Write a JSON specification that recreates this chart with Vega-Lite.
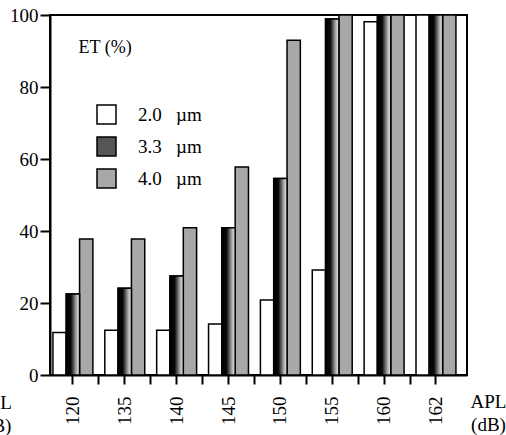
{
  "$schema": "https://vega.github.io/schema/vega-lite/v6.json",
  "width": 417,
  "height": 360,
  "autosize": "none",
  "padding": {"left": 50, "top": 15, "right": 39, "bottom": 60},
  "background": "white",
  "config": {
    "font": "Liberation Serif",
    "view": {"stroke": "black", "strokeWidth": 2},
    "axis": {"labelFont": "Liberation Serif", "titleFont": "Liberation Serif", "labelColor": "black", "titleColor": "black", "domainColor": "black", "tickColor": "black", "grid": false},
    "legend": {"symbolStrokeColor": "black", "symbolStrokeWidth": 1.5}
  },
  "title": {
    "text": ["APL", "(dB)"],
    "orient": "bottom",
    "anchor": "start",
    "frame": "group",
    "align": "center",
    "dx": -56,
    "offset": -40,
    "font": "Liberation Serif",
    "fontSize": 19,
    "fontWeight": "normal",
    "lineHeight": 23,
    "color": "black"
  },
  "data": {
    "values": [
      {"apl": "120", "size": "2.0", "et": 11.8},
      {"apl": "120", "size": "3.3", "et": 22.5},
      {"apl": "120", "size": "4.0", "et": 37.8},
      {"apl": "135", "size": "2.0", "et": 12.4},
      {"apl": "135", "size": "3.3", "et": 24.1},
      {"apl": "135", "size": "4.0", "et": 37.8},
      {"apl": "140", "size": "2.0", "et": 12.4},
      {"apl": "140", "size": "3.3", "et": 27.5},
      {"apl": "140", "size": "4.0", "et": 40.9},
      {"apl": "145", "size": "2.0", "et": 14.2},
      {"apl": "145", "size": "3.3", "et": 40.9},
      {"apl": "145", "size": "4.0", "et": 57.8},
      {"apl": "150", "size": "2.0", "et": 20.8},
      {"apl": "150", "size": "3.3", "et": 54.6},
      {"apl": "150", "size": "4.0", "et": 93.0},
      {"apl": "155", "size": "2.0", "et": 29.2},
      {"apl": "155", "size": "3.3", "et": 98.9},
      {"apl": "155", "size": "4.0", "et": 100},
      {"apl": "160", "size": "2.0", "et": 98.1},
      {"apl": "160", "size": "3.3", "et": 100},
      {"apl": "160", "size": "4.0", "et": 100},
      {"apl": "162", "size": "2.0", "et": 100},
      {"apl": "162", "size": "3.3", "et": 100},
      {"apl": "162", "size": "4.0", "et": 100}
    ]
  },
  "resolve": {"axis": {"x": "independent"}},
  "layer": [
    {
      "mark": {"type": "bar", "strokeWidth": 1.5},
      "encoding": {
        "x": {
          "field": "apl",
          "type": "nominal",
          "sort": ["120", "135", "140", "145", "150", "155", "160", "162"],
          "scale": {"paddingInner": 0.23, "paddingOuter": 0.135, "align": 0.21},
          "axis": {
            "orient": "bottom",
            "title": ["APL", "(dB)"],
            "titleFontSize": 19,
            "titleFontWeight": "normal",
            "titleLineHeight": 23,
            "titleAlign": "center",
            "titleBaseline": "alphabetic",
            "titleAnchor": null,
            "titleAngle": 0,
            "titleX": 438,
            "titleY": 32,
            "labelAngle": -90,
            "labelFontSize": 19,
            "labelPadding": 12,
            "tickSize": 9,
            "tickWidth": 2,
            "domainWidth": 2
          }
        },
        "xOffset": {
          "field": "size",
          "type": "nominal",
          "scale": {"domain": ["2.0", "3.3", "4.0"], "paddingInner": 0, "paddingOuter": 0}
        },
        "y": {
          "field": "et",
          "type": "quantitative",
          "scale": {"domain": [0, 100], "nice": false},
          "axis": {
            "title": "ET (%)",
            "titleFontSize": 18,
            "titleFontWeight": "normal",
            "titleAngle": 0,
            "titleAlign": "left",
            "titleBaseline": "middle",
            "titleAnchor": null,
            "titleX": 28,
            "titleY": 32,
            "values": [0, 10, 20, 30, 40, 50, 60, 70, 80, 90, 100],
            "labelExpr": "datum.value % 20 === 0 ? datum.label : ''",
            "labelFontSize": 19,
            "labelPadding": 2,
            "tickSize": 10,
            "tickWidth": 2,
            "domainWidth": 2
          }
        },
        "stroke": {"value": "black"},
        "fill": {
          "field": "size",
          "type": "nominal",
          "scale": {
            "domain": ["2.0", "3.3", "4.0"],
            "range": ["white", "#555555", "#a8a8a8"]
          },
          "legend": {
            "title": null,
            "orient": "none",
            "legendX": 46,
            "legendY": 89,
            "symbolType": "square",
            "symbolSize": 361,
            "symbolStrokeColor": "black",
            "symbolStrokeWidth": 1.5,
            "symbolOpacity": 1,
            "labelFont": "Liberation Serif",
            "labelFontSize": 19,
            "labelColor": "black",
            "labelOffset": 21,
            "rowPadding": 7,
            "labelExpr": "datum.label + '\u2002\u2005\u00b5m'"
          }
        }
      }
    },
    {
      "transform": [{"filter": "datum.size === '3.3'"}],
      "mark": {
        "type": "bar",
        "stroke": "black",
        "strokeWidth": 1.5,
        "fill": {"gradient": "linear", "x1": 0, "y1": 0, "x2": 1, "y2": 0, "stops": [{"offset": 0, "color": "#000000"}, {"offset": 0.35, "color": "#080808"}, {"offset": 0.75, "color": "#a8a8a8"}, {"offset": 1, "color": "#eeeeee"}]}
      },
      "encoding": {
        "x": {
          "field": "apl",
          "type": "nominal",
          "sort": ["120", "135", "140", "145", "150", "155", "160", "162"],
          "axis": {
            "orient": "bottom",
            "title": null,
            "labels": false,
            "domain": false,
            "values": ["135", "140", "145", "150", "155", "160", "162"],
            "bandPosition": -0.15,
            "tickSize": 9,
            "tickWidth": 2
          }
        },
        "xOffset": {"field": "size", "type": "nominal"},
        "y": {"field": "et", "type": "quantitative"}
      }
    }
  ]
}
